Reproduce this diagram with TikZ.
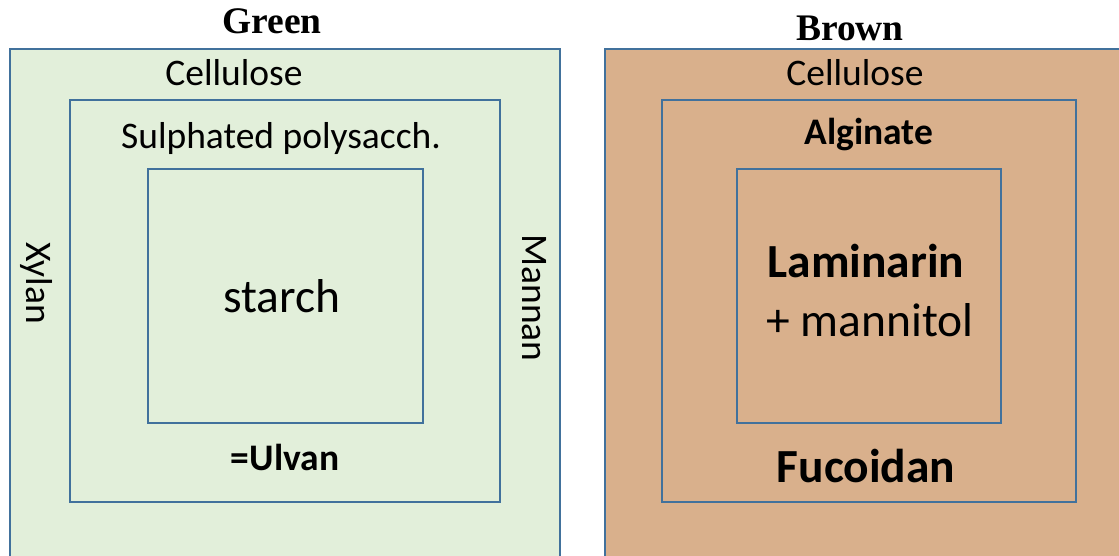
\documentclass[tikz,border=0pt]{standalone}
\usepackage{fontspec}
\setmainfont{Carlito}
\newfontfamily\titlefont{Liberation Serif}
\definecolor{wallgreen}{RGB}{226,239,218}
\definecolor{wallbrown}{RGB}{217,176,140}
\definecolor{wallline}{RGB}{65,113,156}
\tikzset{
    layer/.style  = {draw=wallline, line width=2.4pt, rectangle, inner sep=0pt, anchor=north west},
    title/.style  = {font=\titlefont\bfseries\fontsize{37.5}{42}\selectfont},
    lab/.style    = {font=\fontsize{37.5}{42}\selectfont},
    boldlab/.style = {font=\bfseries\fontsize{37.5}{42}\selectfont},
    big/.style    = {font=\fontsize{47.5}{54}\selectfont},
    boldbig/.style = {font=\bfseries\fontsize{47.5}{54}\selectfont},
}
\begin{document}
\begin{tikzpicture}[x=1pt, y=-1pt]
    \clip (0,0) rectangle (1119,555);
    % green
    \node[layer, fill=wallgreen, minimum width=550pt, minimum height=530pt] (gout) at (9,48) {};
    \node[layer, minimum width=430pt, minimum height=402pt] (gmid) at (69,99) {};
    \node[layer, minimum width=275pt, minimum height=254pt] (gin) at (147,168) {};
    \node[title] (gtitle) at (272,21) {Green};
    \node[lab] (gcell) at (234,73) {Cellulose};
    \node[lab] (gsulph) at (281,138) {Sulphated polysacch.};
    \node[big] (gstarch) at (282,296) {starch};
    \node[boldlab] (gulvan) at (285,457) {=Ulvan};
    \node[lab, rotate=-90] (gxylan) at (36,283) {Xylan};
    \node[lab, rotate=-90] (gmannan) at (534,298) {Mannan};
    % brown
    \node[layer, fill=wallbrown, minimum width=530pt, minimum height=530pt] (bout) at (604,48) {};
    \node[layer, minimum width=414pt, minimum height=402pt] (bmid) at (661,99) {};
    \node[layer, minimum width=264pt, minimum height=254pt] (bin) at (736,168) {};
    \node[title] (btitle) at (850,28) {Brown};
    \node[lab] (bcell) at (855,73) {Cellulose};
    \node[boldlab] (balg) at (869,135) {Alginate};
    \node[boldbig] (blam) at (866,261) {Laminarin};
    \node[big] (bmann) at (870,320) {+ mannitol};
    \node[boldbig] (bfuc) at (866,466) {Fucoidan};
\end{tikzpicture}
\end{document}
